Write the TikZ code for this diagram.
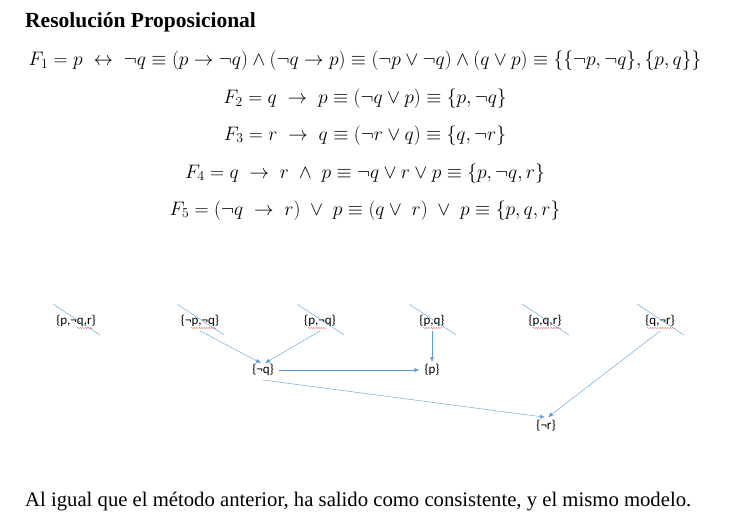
\RequirePackage{fix-cm}
\documentclass[tikz,border=0pt]{standalone}
\usepackage{fontspec}
\setmainfont{Liberation Serif}
\newfontfamily\clausefont{Carlito}
\usetikzlibrary{arrows.meta,decorations.pathmorphing}

\definecolor{arrowblue}{RGB}{91,155,213}
\definecolor{spellred}{RGB}{236,110,110}

\tikzset{
  clause/.style={font=\clausefont\fontsize{13}{15}\selectfont, inner sep=1pt},
  formula/.style={font=\fontsize{19.5}{23}\selectfont, anchor=base},
  resarrow/.style={draw=arrowblue, -{Latex[length=5pt,width=4pt]}},
  strike/.style={draw=arrowblue},
  squiggle/.style={draw=spellred, decorate, decoration={snake,amplitude=0.6pt,segment length=2.5pt}}
}

\begin{document}
\begin{tikzpicture}[x=1pt,y=-1pt]
\useasboundingbox (0,0) rectangle (738,516);

\node[anchor=base west, inner sep=0, font=\bfseries\fontsize{21.5}{25}\selectfont] (title) at (25,28) {Resolución Proposicional};

%formulas
\node[formula] (f1) at (365,66) {$F_1 = p \;\leftrightarrow\; \neg q \equiv (p \to \neg q) \wedge (\neg q \to p) \equiv (\neg p \vee \neg q) \wedge (q \vee p) \equiv \{\{\neg p, \neg q\}, \{p, q\}\}$};
\node[formula] (f2) at (365,104) {$F_2 = q \;\to\; p \equiv (\neg q \vee p) \equiv \{p, \neg q\}$};
\node[formula] (f3) at (365,140) {$F_3 = r \;\to\; q \equiv (\neg r \vee q) \equiv \{q, \neg r\}$};
\node[formula] (f4) at (365,178) {$F_4 = q \;\to\; r \;\wedge\; p \equiv \neg q \vee r \vee p \equiv \{p, \neg q, r\}$};
\node[formula] (f5) at (365,215) {$F_5 = (\neg q \;\to\; r) \;\vee\; p \equiv (q \vee\; r) \;\vee\; p \equiv \{p, q, r\}$};

%clauses
\node[clause] (c1) at (76,321) {\{p,¬q,r\}};
\node[clause] (c2) at (200,321) {\{¬p,¬q\}};
\node[clause] (c3) at (320,321) {\{p,¬q\}};
\node[clause] (c4) at (432,321) {\{p,q\}};
\node[clause] (c5) at (545,321) {\{p,q,r\}};
\node[clause] (c6) at (660,321) {\{q,¬r\}};

\node[clause] (nq) at (263,370) {\{¬q\}};
\node[clause] (p) at (432,370) {\{p\}};
\node[clause] (nr) at (546,426) {\{¬r\}};

%crossed out
\foreach \c in {c1,c2,c3,c4,c5,c6}
  \draw[strike] ([shift={(-23,-17)}]\c.center) -- ([shift={(24,14)}]\c.center);

\draw[squiggle] (77,328) -- (93,328);
\draw[squiggle] (191,328) -- (217,328);
\draw[squiggle] (308,328) -- (327,328);
\draw[squiggle] (423,328) -- (443,328);
\draw[squiggle] (533,328) -- (562,328);
\draw[squiggle] (647,328) -- (675,328);

%resolution steps
\draw[resarrow] ([yshift=-10]c2.center) -- ([xshift=-2]nq.north);
\draw[resarrow] ([yshift=-10]c3.center) -- ([xshift=2]nq.north);
\draw[resarrow] ([yshift=-10]c4.center) -- ([yshift=1]p.north);
\draw[resarrow] ([xshift=4]nq.east) -- ([xshift=-4]p.west);
\draw[resarrow] ([yshift=-10]nq.center) -- ([xshift=-1,yshift=2]nr.north);
\draw[resarrow] ([yshift=-10]c6.center) -- ([xshift=2,yshift=2]nr.north);

\node[anchor=base west, inner sep=0, font=\fontsize{20.7}{24}\selectfont] (concl) at (25,506) {Al igual que el método anterior, ha salido como consistente, y el mismo modelo.};
\end{tikzpicture}
\end{document}
